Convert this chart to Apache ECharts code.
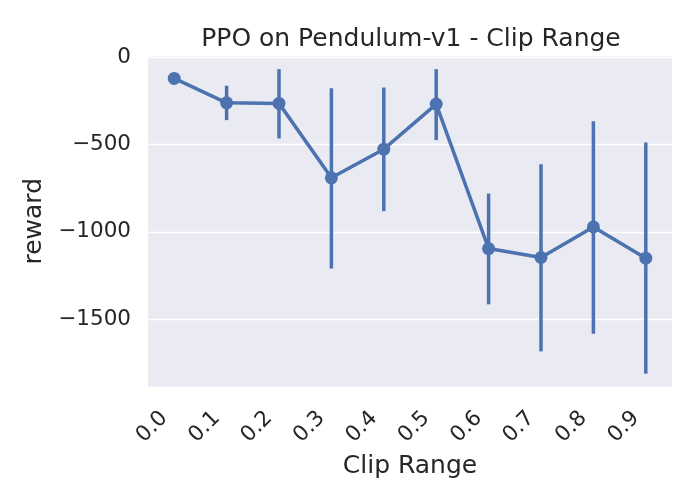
<!DOCTYPE html>
<html>
<head>
<meta charset="utf-8">
<script src="https://cdn.jsdelivr.net/npm/echarts@6/dist/echarts.min.js"></script>
<style>html,body{margin:0;padding:0;background:#fff;}#c{width:700px;height:500px;}</style>
</head>
<body>
<div id="c"></div>
<script>
const categories = ['0.0','0.1','0.2','0.3','0.4','0.5','0.6','0.7','0.8','0.9'];
const meanReward = [-122, -262, -265, -691, -527, -269, -1096, -1147, -972, -1151];
const errLower  = [-122, -361, -466, -1210, -882, -475, -1415, -1684, -1583, -1812];
const errUpper  = [-122, -164, -69, -179, -174, -69, -781, -613, -367, -489];

const COLOR = '#4C72B0';
const TXT = '#262626';
const FONT = 'DejaVu Sans';

const errData = categories.map((c, i) => [i, errLower[i], errUpper[i]]);

const chart = echarts.init(document.getElementById('c'), null, {renderer: 'canvas'});
chart.setOption({
  animation: false,
  backgroundColor: '#ffffff',
  title: {
    text: 'PPO on Pendulum-v1 - Clip Range',
    left: 406,
    textAlign: 'center',
    top: 22,
    textStyle: {fontFamily: FONT, fontSize: 25, fontWeight: 'normal', color: TXT}
  },
  grid: {
    left: 148, right: 28, top: 55.5, bottom: 113,
    show: true, backgroundColor: '#EAEAF2', borderWidth: 0
  },
  xAxis: {
    type: 'category',
    data: categories,
    boundaryGap: true,
    axisLine: {show: false},
    axisTick: {show: false},
    splitLine: {show: false},
    axisLabel: {
      rotate: 45, interval: 0, margin: 18,
      padding: [0, 14, 0, 0],
      fontFamily: FONT, fontSize: 21.5, color: TXT
    },
    name: 'Clip Range',
    nameLocation: 'middle',
    nameGap: 58,
    nameTextStyle: {fontFamily: FONT, fontSize: 25, color: TXT}
  },
  yAxis: {
    type: 'value',
    min: -1888, max: 9,
    splitNumber: 4,
    axisLine: {show: false},
    axisTick: {show: false},
    splitLine: {show: true, lineStyle: {color: '#ffffff', width: 1.3}},
    axisLabel: {
      showMinLabel: false, showMaxLabel: false,
      margin: 17, fontFamily: FONT, fontSize: 21.5, color: TXT,
      formatter: v => (v < 0 ? '\u2212' + Math.abs(v) : String(v))
    },
    name: 'reward',
    nameLocation: 'middle',
    nameRotate: 90,
    nameGap: 94,
    nameTextStyle: {fontFamily: FONT, fontSize: 25, color: TXT}
  },
  series: [
    {
      type: 'custom',
      data: errData,
      z: 1,
      renderItem: (params, api) => {
        const x = api.value(0);
        const p1 = api.coord([x, api.value(1)]);
        const p2 = api.coord([x, api.value(2)]);
        return {
          type: 'line',
          shape: {x1: p1[0], y1: p1[1], x2: p2[0], y2: p2[1]},
          style: {stroke: COLOR, lineWidth: 3.5, lineCap: 'butt'}
        };
      }
    },
    {
      type: 'line',
      data: meanReward,
      z: 3,
      symbol: 'circle',
      symbolSize: 13,
      lineStyle: {color: COLOR, width: 3.5},
      itemStyle: {color: COLOR}
    }
  ]
});
</script>
</body>
</html>
